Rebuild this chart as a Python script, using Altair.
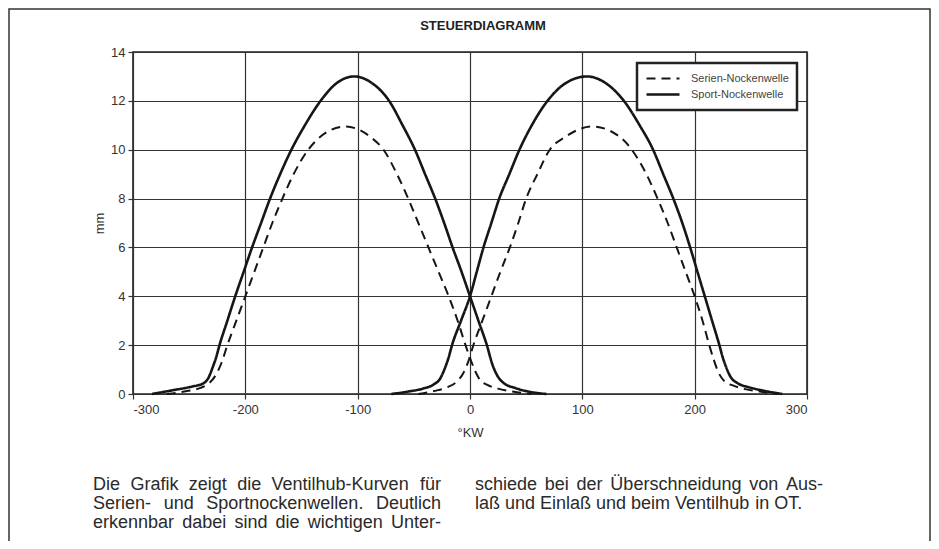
import altair as alt
import pandas as pd

# ---- data (°KW vs. valve lift in mm) ----
# Sport-Nockenwelle, Auslass (left lobe)
sport_ex_x = [-283, -265, -248, -238, -233, -229, -226, -223, -216, -209, -201.5, -194, -186, -178, -169, -159, -147, -133, -118, -103,
              -88, -72, -60, -49, -40, -31, -23, -15.5, -7.5, 0, 7.5, 15, 20, 25, 30, 40, 52, 68]
sport_ex_y = [0, 0.15, 0.3, 0.42, 0.65, 1.1, 1.5, 2.0, 3.0, 4.0, 5.0, 6.0, 7.0, 8.0, 9.0, 10.0, 11.0, 12.0, 12.75, 13.0,
              12.75, 12.0, 11.0, 10.0, 9.0, 8.0, 7.0, 6.0, 5.0, 4.0, 3.0, 2.0, 1.2, 0.7, 0.45, 0.25, 0.1, 0]
# Sport-Nockenwelle, Einlass (right lobe)
sport_in_x = [-70, -55, -42, -32, -27, -22, -19, -16, -8, 0, 6, 12, 19, 26, 35, 44, 55, 69, 86, 104,
              120, 137, 151, 163, 172, 181, 189, 196, 202.5, 209, 215.5, 222, 225, 228, 232, 238, 248, 262, 278]
sport_in_y = [0, 0.1, 0.22, 0.4, 0.6, 1.1, 1.5, 2.0, 3.0, 4.0, 5.0, 6.0, 7.0, 8.0, 9.0, 10.0, 11.0, 12.0, 12.75, 13.0,
              12.75, 12.0, 11.0, 10.0, 9.0, 8.0, 7.0, 6.0, 5.0, 4.0, 3.0, 2.0, 1.5, 1.1, 0.7, 0.45, 0.28, 0.13, 0]
# Serien-Nockenwelle, Auslass (left lobe)
serie_ex_x = [-270, -252, -240, -232, -226, -221, -216, -208, -200, -192, -184, -176, -167, -157, -144, -134, -111,
              -88, -77, -65, -55, -46, -37, -28, -19, -11, -4, 1, 5, 9, 15, 25, 38, 55]
serie_ex_y = [0, 0.12, 0.25, 0.45, 0.8, 1.3, 2.0, 3.0, 4.0, 5.0, 6.0, 7.0, 8.0, 9.0, 10.0, 10.5, 10.95,
              10.5, 10.0, 9.0, 8.0, 7.0, 6.0, 5.0, 4.0, 3.0, 2.0, 1.35, 0.9, 0.57, 0.38, 0.22, 0.1, 0]
# Serien-Nockenwelle, Einlass (right lobe)
serie_in_x = [-46, -32, -20, -12, -6, -1, 3, 11, 19, 27, 35.5, 43, 50, 60, 71, 84, 109,
              134, 144, 157, 167, 176, 184, 192, 200, 207, 213, 217, 221, 226, 234, 245, 258, 274]
serie_in_y = [0, 0.12, 0.28, 0.5, 0.85, 1.4, 2.0, 3.0, 4.0, 5.0, 6.0, 7.0, 8.0, 9.0, 10.0, 10.5, 10.95,
              10.5, 10.0, 9.0, 8.0, 7.0, 6.0, 5.0, 4.0, 3.0, 2.0, 1.4, 0.9, 0.55, 0.35, 0.2, 0.1, 0]

series_names = ["Serien-Nockenwelle", "Sport-Nockenwelle"]
x_ticks = [-300, -200, -100, 0, 100, 200, 300]
y_ticks = [0, 2, 4, 6, 8, 10, 12, 14]

chart_title = "STEUERDIAGRAMM"
x_title = "°KW"
y_title = "mm"
caption_left = [
    "Die Grafik zeigt die Ventilhub-Kurven für",
    "Serien- und Sportnockenwellen. Deutlich",
    "erkennbar dabei sind die wichtigen Unter-",
]
caption_right = [
    "schiede bei der Überschneidung von Aus-",
    "laß und Einlaß und beim Ventilhub in OT.",
]

rows = []
for xs, ys, serie, curve in [
    (serie_ex_x, serie_ex_y, series_names[0], "serie_ex"),
    (serie_in_x, serie_in_y, series_names[0], "serie_in"),
    (sport_ex_x, sport_ex_y, series_names[1], "sport_ex"),
    (sport_in_x, sport_in_y, series_names[1], "sport_in"),
]:
    for a, b in zip(xs, ys):
        rows.append({"kw": a, "mm": b, "serie": serie, "curve": curve})
df = pd.DataFrame(rows)

FONT = "Liberation Sans, Arial, Helvetica, sans-serif"
INK = "#161616"

# ---- justified caption layout (Liberation Sans = Arial metrics, units per 1000 em) ----
W = {" ": 278, "-": 333, ".": 278, "ß": 611, "ü": 556, "Ü": 722}
W.update({c: v for c, v in zip("abcdefghijklmnopqrstuvwxyz",
                               [556, 556, 500, 556, 556, 278, 556, 556, 222, 222, 500, 222, 833,
                                556, 556, 556, 556, 333, 500, 278, 556, 500, 722, 500, 500, 500])})
W.update({"A": 667, "B": 667, "C": 722, "D": 722, "E": 667, "F": 611, "G": 778, "H": 722, "I": 278,
          "K": 667, "L": 556, "O": 778, "S": 667, "T": 611, "U": 722, "V": 667})
CAP_SIZE = 18
CAP_LH = 19
COL_W = 348


def text_w(s):
    return sum(W.get(ch, 556) for ch in s) * CAP_SIZE / 1000.0


def layout(lines, x0, y0, justify_last):
    out = []
    for i, line in enumerate(lines):
        words = line.split()
        last = i == len(lines) - 1
        if len(words) > 1 and (justify_last or not last):
            gap = (COL_W - sum(text_w(w) for w in words)) / (len(words) - 1)
        else:
            gap = text_w(" ")
        x = x0
        for w in words:
            out.append({"word": w, "px": x, "py": y0 + i * CAP_LH})
            x += text_w(w) + gap
    return out


cap_df = pd.DataFrame(layout(caption_left, -40, 433, True) + layout(caption_right, 342, 433, False))

lines = alt.Chart(df).mark_line(color=INK, interpolate="monotone").encode(
    x=alt.X("kw:Q",
            scale=alt.Scale(domain=[-300, 300], nice=False, zero=False),
            axis=alt.Axis(values=x_ticks, title=x_title, titleY=38, titleBaseline="middle",
                          labelPadding=4, labelExpr="datum.value + ''")),
    y=alt.Y("mm:Q",
            scale=alt.Scale(domain=[0, 14], nice=False),
            axis=alt.Axis(values=y_ticks, title=y_title, titleAngle=-90, titleX=-34, titleY=171,
                          titleAlign="center", titleBaseline="middle", labelPadding=3)),
    strokeDash=alt.StrokeDash("serie:N",
                              scale=alt.Scale(domain=series_names, range=[[9, 6], [1, 0]]),
                              legend=alt.Legend(title=None, orient="none", legendX=504, legendY=11)),
    strokeWidth=alt.StrokeWidth("serie:N",
                                scale=alt.Scale(domain=series_names, range=[2.0, 2.6]),
                                legend=None),
    detail="curve:N",
    order="kw:Q",
)

one = alt.Data(values=[{}])

frame = alt.Chart(one).mark_rect(fillOpacity=0, stroke="#333", strokeWidth=1.5).encode(
    x=alt.value(-124), x2=alt.value(797), y=alt.value(-43), y2=alt.value(560)
)

title_mark = alt.Chart(one).mark_text(align="center", baseline="middle", font=FONT, fontSize=13,
                                      fontWeight="bold", color="#222").encode(
    x=alt.value(350), y=alt.value(-26), text=alt.value(chart_title)
)

caption = alt.Chart(cap_df).mark_text(align="left", baseline="middle", font=FONT, fontSize=CAP_SIZE,
                                      color="#2a2a2a").encode(
    x=alt.X("px:Q", scale=None, axis=None),
    y=alt.Y("py:Q", scale=None, axis=None),
    text="word:N",
)

chart = alt.layer(lines, frame, title_mark, caption).properties(
    width=674,
    height=342,
    padding={"left": 125, "top": 44, "right": 124, "bottom": 147},
    autosize=alt.AutoSizeParams(type="none"),
).configure_view(
    stroke="#222", strokeWidth=1.6
).configure_axis(
    grid=True, gridColor="#333", gridWidth=1.2, domain=False,
    tickColor="#333", tickSize=5, tickWidth=1.2,
    labelFont=FONT, labelFontSize=13, labelColor="#333",
    titleFont=FONT, titleFontSize=13, titleFontWeight="normal", titleColor="#333",
).configure_legend(
    symbolType="stroke", symbolSize=1089, symbolStrokeWidth=2.2, symbolStrokeColor=INK,
    labelFont=FONT, labelFontSize=11, labelColor="#444", labelOffset=10,
    strokeColor="#222", strokeWidth=2.5, fillColor="white", padding=8, clipHeight=15, rowPadding=1,
)

chart.save("out.html", embed_options={"renderer": "svg", "actions": False})
